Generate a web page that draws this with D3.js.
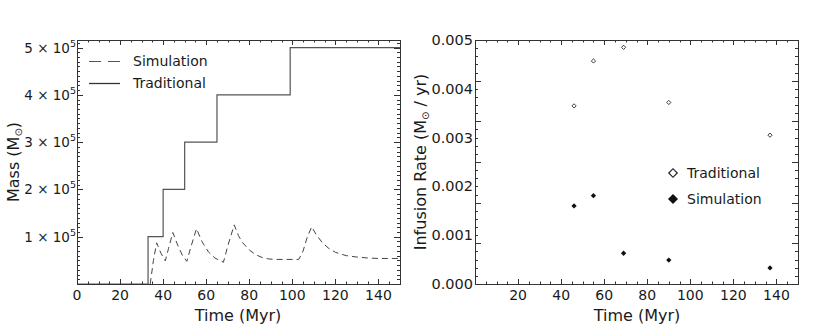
<!DOCTYPE html>
<html><head><meta charset="utf-8">
<script src="https://cdn.jsdelivr.net/npm/d3@7"></script>
<style>
body{margin:0;background:#fff;}
text{font-family:"DejaVu Sans",sans-serif;fill:#1a1a1a;}
</style></head>
<body><svg id="c" width="830" height="329"></svg>
<script>
// ---- data ----
const simTime = [34,35.5,37,39,41,42.5,44.5,46.5,49,51,53,55.5,58,61,64,68,70,73,75,77,80,83,86,89,92,103,105,107,109,111,114,117,120,125,130,135,140,150];
const simMass = [0,0.5e5,0.87e5,0.65e5,0.49e5,0.75e5,1.09e5,0.85e5,0.6e5,0.48e5,0.8e5,1.17e5,0.9e5,0.68e5,0.55e5,0.46e5,0.8e5,1.25e5,1.02e5,0.87e5,0.72e5,0.62e5,0.56e5,0.53e5,0.52e5,0.52e5,0.7e5,1.0e5,1.21e5,1.05e5,0.87e5,0.75e5,0.67e5,0.6e5,0.57e5,0.55e5,0.54e5,0.54e5];
const tradTime = [0,33,40,50,65,99,150];
const tradMass = [0,1e5,2e5,3e5,4e5,5e5,5e5];
const rateTime = [46,55,69,90,137];
const tradRate = [0.00365,0.00457,0.00485,0.00372,0.00305];
const simRate = [0.00160,0.00181,0.00063,0.00049,0.00033];
const massTickVals = [1e5,2e5,3e5,4e5,5e5];
const massTickMant = ["1","2","3","4","5"];
const leftXTicks = [0,20,40,60,80,100,120,140];
const rightXTicks = [20,40,60,80,100,120,140];
const rateTickVals = [0,0.001,0.002,0.003,0.004,0.005];
const rateTickLabels = ["0.000","0.001","0.002","0.003","0.004","0.005"];

const svg = d3.select("#c");
const yTop=40, yBot=284;
const axCol="#333";

function frame(g,x0,x1){
  g.append("rect").attr("x",x0+0.5).attr("y",yTop+0.5).attr("width",x1-x0).attr("height",yBot-yTop)
   .attr("fill","none").attr("stroke",axCol).attr("stroke-width",1);
}
function xTicks(g,x){
  const minor=d3.range(0,151,5), major=d3.range(0,151,20);
  minor.forEach(v=>{
    const L = major.includes(v)?5:2.5;
    const px=Math.round(x(v))+0.5;
    g.append("line").attr("x1",px).attr("x2",px).attr("y1",yBot).attr("y2",yBot-L).attr("stroke",axCol);
    g.append("line").attr("x1",px).attr("x2",px).attr("y1",yTop).attr("y2",yTop+L).attr("stroke",axCol);
  });
}
function yTicks(g,y,x0,x1,minor,major){
  minor.forEach(v=>{
    const isMaj = major.some(m=>Math.abs(m-v)<1e-12);
    const L = isMaj?6:3;
    const py=Math.round(y(v))+0.5;
    g.append("line").attr("x1",x0).attr("x2",x0+L).attr("y1",py).attr("y2",py).attr("stroke",axCol);
    g.append("line").attr("x1",x1).attr("x2",x1-L).attr("y1",py).attr("y2",py).attr("stroke",axCol);
  });
}

// ---- left panel ----
const xL = d3.scaleLinear().domain([0,150]).range([77,400]);
const yL = d3.scaleLinear().domain([0,5.16e5]).range([yBot,yTop]);
const gL = svg.append("g");

const tradPts = tradTime.map((t,i)=>[t,tradMass[i]]);
gL.append("path").datum(tradPts)
  .attr("d",d3.line().x(d=>xL(d[0])).y(d=>yL(d[1])).curve(d3.curveStepAfter))
  .attr("fill","none").attr("stroke","#555").attr("stroke-width",1.2);
const simPts = simTime.map((t,i)=>[t,simMass[i]]);
gL.append("path").datum(simPts)
  .attr("d",d3.line().x(d=>xL(d[0])).y(d=>yL(d[1])))
  .attr("fill","none").attr("stroke","#444").attr("stroke-width",1).attr("stroke-dasharray","6,4");

frame(gL,77,400);
xTicks(gL,xL);
yTicks(gL,yL,77,400,d3.range(0,5.16e5,1e4),massTickVals);

leftXTicks.forEach(v=>{
  gL.append("text").attr("x",xL(v)).attr("y",300).attr("text-anchor","middle").attr("font-size",14).text(v);
});
massTickVals.forEach((v,i)=>{
  const t=gL.append("text").attr("x",76).attr("y",yL(v)+5).attr("text-anchor","end").attr("font-size",13.5);
  t.append("tspan").text(massTickMant[i]+" × 10");
  t.append("tspan").attr("font-size",9.5).attr("dy",-6).text("5");
});
gL.append("text").attr("x",238).attr("y",321).attr("text-anchor","middle").attr("font-size",16).text("Time (Myr)");
{
  const t=gL.append("text").attr("transform","translate(19,162) rotate(-90)").attr("text-anchor","middle").attr("font-size",16);
  t.append("tspan").text("Mass (M");
  t.append("tspan").attr("font-size",10).attr("dy",3).text("⊙");
  t.append("tspan").attr("dy",-3).text(")");
}
// legend
gL.append("line").attr("x1",89).attr("x2",120).attr("y1",61.5).attr("y2",61.5).attr("stroke","#555").attr("stroke-width",1.2).attr("stroke-dasharray","12,7");
gL.append("line").attr("x1",89).attr("x2",120).attr("y1",83.5).attr("y2",83.5).attr("stroke","#333").attr("stroke-width",1.3);
gL.append("text").attr("x",133).attr("y",66).attr("font-size",14).text("Simulation");
gL.append("text").attr("x",133).attr("y",88).attr("font-size",14).text("Traditional");

// ---- right panel ----
const xR = d3.scaleLinear().domain([0,150]).range([475,798]);
const yR = d3.scaleLinear().domain([0,0.005]).range([yBot,yTop]);
const gR = svg.append("g");
frame(gR,475,798);
xTicks(gR,xR);
const rMaj = d3.range(0,7).map(k=>k*0.005/6);
const rMin = d3.range(0,31).map(k=>k*0.005/30);
yTicks(gR,yR,475,798,rMin,rMaj);

const sq = d3.symbol().type(d3.symbolSquare);
rateTime.forEach((t,i)=>{
  gR.append("path").attr("d",sq.size(9)()).attr("transform",`translate(${xR(t)},${yR(tradRate[i])}) rotate(45)`)
    .attr("fill","#fff").attr("stroke","#333").attr("stroke-width",0.9);
  gR.append("path").attr("d",sq.size(14)()).attr("transform",`translate(${xR(t)},${yR(simRate[i])}) rotate(45)`)
    .attr("fill","#111");
});
rightXTicks.forEach(v=>{
  gR.append("text").attr("x",xR(v)).attr("y",300).attr("text-anchor","middle").attr("font-size",14).text(v);
});
rateTickVals.forEach((v,i)=>{
  gR.append("text").attr("x",473).attr("y",yR(v)+5).attr("text-anchor","end").attr("font-size",14.5).text(rateTickLabels[i]);
});
gR.append("text").attr("x",637).attr("y",321).attr("text-anchor","middle").attr("font-size",16).text("Time (Myr)");
{
  const t=gR.append("text").attr("transform","translate(426,162) rotate(-90)").attr("text-anchor","middle").attr("font-size",16);
  t.append("tspan").text("Infusion Rate (M");
  t.append("tspan").attr("font-size",10).attr("dy",3).text("⊙");
  t.append("tspan").attr("dy",-3).text(" / yr)");
}
gR.append("path").attr("d",sq.size(36)()).attr("transform","translate(673,173) rotate(45)").attr("fill","#fff").attr("stroke","#222").attr("stroke-width",1.2);
gR.append("path").attr("d",sq.size(50)()).attr("transform","translate(673,199) rotate(45)").attr("fill","#111");
gR.append("text").attr("x",687).attr("y",178).attr("font-size",14).text("Traditional");
gR.append("text").attr("x",687).attr("y",204).attr("font-size",14).text("Simulation");
</script></body></html>
